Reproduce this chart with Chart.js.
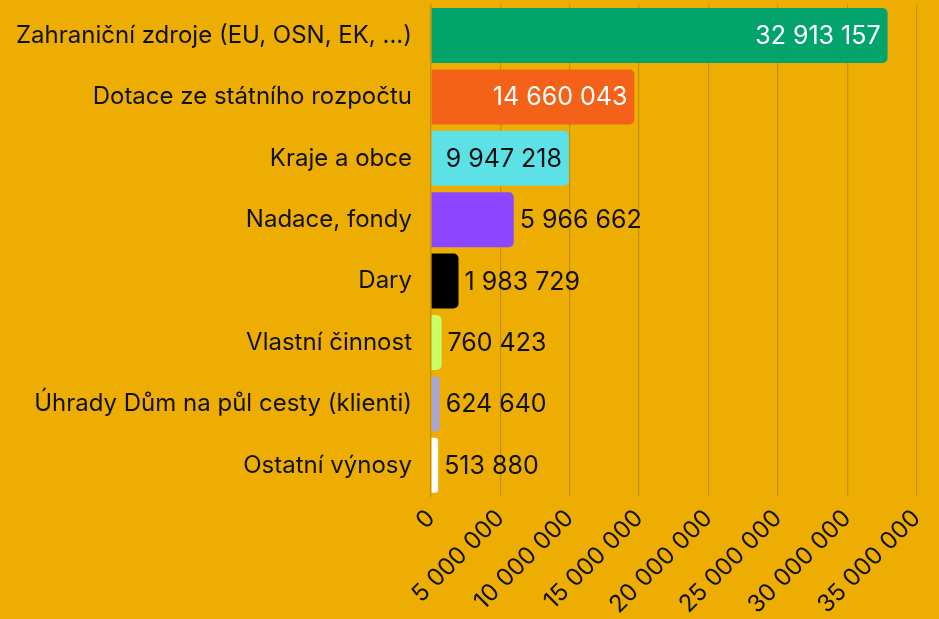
<!DOCTYPE html>
<html>
<head>
<meta charset="utf-8">
<script src="https://cdn.jsdelivr.net/npm/chart.js@4/dist/chart.umd.min.js"></script>
<style>
  html, body { margin: 0; padding: 0; background: #EDAD03; }
  #wrap { width: 939px; height: 619px; }
</style>
</head>
<body>
<div id="wrap"><canvas id="chart"></canvas></div>
<script>
// data
const categories = [
    'Zahraniční zdroje (EU, OSN, EK, ...)',
    'Dotace ze státního rozpočtu',
    'Kraje a obce',
    'Nadace, fondy',
    'Dary',
    'Vlastní činnost',
    'Úhrady Dům na půl cesty (klienti)',
    'Ostatní výnosy'
];
const amounts = [32913157, 14660043, 9947218, 5966662, 1983729, 760423, 624640, 513880];
const xTicks = [0, 5000000, 10000000, 15000000, 20000000, 25000000, 30000000, 35000000];

// styles
const barColors = ['#02A46B', '#F4621A', '#5CE1E6', '#8C46FF', '#000000', '#C6FF66', '#A9A5D4', '#FFFFFF'];
const insideTextColors = ['#FFFFFF', '#FFFFFF', '#111111', '#FFFFFF', '#FFFFFF', '#111111', '#111111', '#111111'];
const FONT = 'Inter, "Noto Sans", sans-serif';
const gridColor = '#C4910A';

function fmt(v) {
    return String(v).replace(/\B(?=(\d{3})+(?!\d))/g, ' ');
}

// value labels: inside the bar end if they fit, otherwise just after it
const valueLabels = {
    id: 'valueLabels',
    afterDatasetsDraw(chart) {
        const ctx = chart.ctx;
        const meta = chart.getDatasetMeta(0);
        ctx.save();
        ctx.font = '25px ' + FONT;
        ctx.textBaseline = 'middle';
        meta.data.forEach((bar, i) => {
            const txt = fmt(amounts[i]);
            const w = ctx.measureText(txt).width;
            const pad = 7;
            const barLen = bar.x - bar.base;
            if (w + pad * 2 < barLen) {
                ctx.textAlign = 'right';
                ctx.fillStyle = insideTextColors[i];
                ctx.fillText(txt, bar.x - pad, bar.y + 1);
            } else {
                ctx.textAlign = 'left';
                ctx.fillStyle = '#111111';
                ctx.fillText(txt, bar.x + pad - 1, bar.y + 1);
            }
        });
        ctx.restore();
    }
};

new Chart(document.getElementById('chart'), {
    type: 'bar',
    data: {
        labels: categories,
        datasets: [{
            data: amounts,
            backgroundColor: barColors,
            borderRadius: 5,
            borderSkipped: 'start',
            categoryPercentage: 1,
            barPercentage: 0.895
        }]
    },
    options: {
        indexAxis: 'y',
        responsive: true,
        maintainAspectRatio: false,
        animation: false,
        layout: { padding: { top: 0, right: 21, left: 0, bottom: 0 } },
        plugins: {
            legend: { display: false },
            tooltip: { enabled: false }
        },
        scales: {
            x: {
                min: 0,
                max: 35000000,
                afterBuildTicks: (scale) => { scale.ticks = xTicks.map(v => ({ value: v })); },
                afterFit: (scale) => { scale.height = 123; },
                grid: { color: gridColor, lineWidth: 1.2, drawTicks: false },
                border: { display: false },
                ticks: {
                    color: '#111111',
                    font: { family: FONT, size: 24, lineHeight: 0.5 },
                    minRotation: 45,
                    maxRotation: 45,
                    padding: 14,
                    callback: (v) => fmt(v)
                }
            },
            y: {
                afterFit: (scale) => { scale.width = 431; },
                grid: { display: false, drawTicks: true, tickLength: 19 },
                border: { display: true, color: gridColor, width: 1.2 },
                ticks: {
                    color: '#111111',
                    font: { family: FONT, size: 24, lineHeight: 0.4 },
                    padding: 0
                }
            }
        }
    },
    plugins: [valueLabels]
});
</script>
</body>
</html>
